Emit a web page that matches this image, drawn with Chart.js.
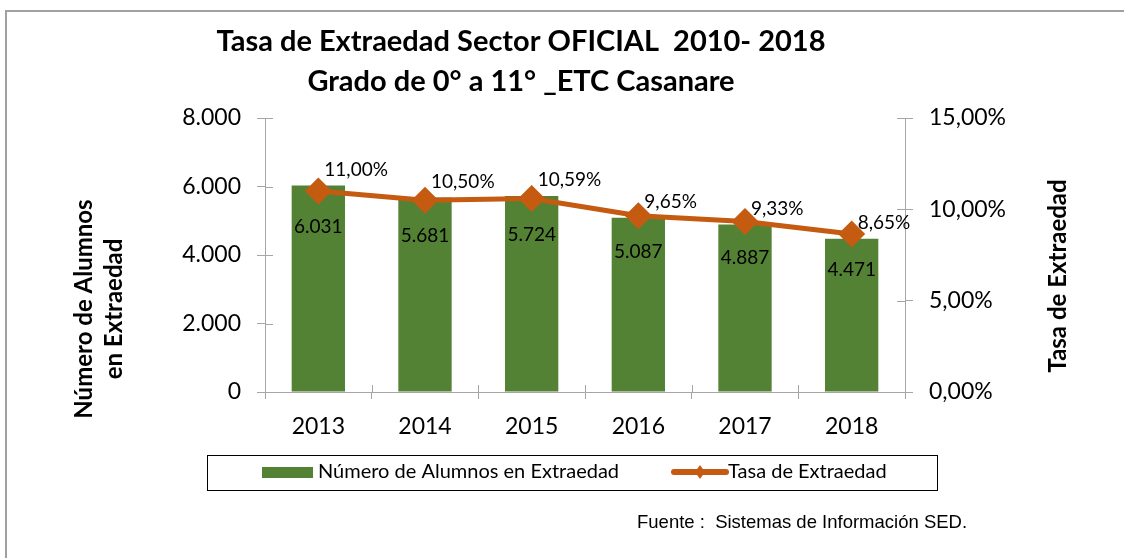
<!DOCTYPE html>
<html>
<head>
<meta charset="utf-8">
<script src="https://cdn.jsdelivr.net/npm/chart.js@4.4.1/dist/chart.umd.min.js"></script>
<style>
  html, body { margin: 0; padding: 0; background: #fff; }
  #wrap { width: 1124px; height: 558px; position: relative; }
</style>
</head>
<body>
<div id="wrap"><canvas id="chart" width="1124" height="558"></canvas></div>
<script>
// Chart data
const years = ['2013', '2014', '2015', '2016', '2017', '2018'];
const alumnos = [6031, 5681, 5724, 5087, 4887, 4471];
const tasa = [11.00, 10.50, 10.59, 9.65, 9.33, 8.65];
const leftTicks = [0, 2000, 4000, 6000, 8000];
const rightTicks = [0, 5, 10, 15];

const green = '#548235';
const orange = '#C55A11';
const axisGray = '#A6A6A6';
const font = 'Lato, "Open Sans", sans-serif';

function fmtMiles(v) {
  return v.toLocaleString('de-DE');
}
function fmtPct(v) {
  return v.toFixed(2).replace('.', ',') + '%';
}

// Draws border, title, axis titles, crossing ticks, data labels and the boxed legend
const extras = {
  id: 'extras',
  afterDatasetsDraw(chart) {
    const ctx = chart.ctx;
    const x = chart.scales.x, y = chart.scales.y, y1 = chart.scales.y1;
    ctx.save();

    // inner halves of the crossing tick marks
    ctx.strokeStyle = axisGray;
    ctx.lineWidth = 1;
    ctx.beginPath();
    leftTicks.forEach(v => {
      const py = Math.round(y.getPixelForValue(v)) + 0.5;
      ctx.moveTo(x.left, py); ctx.lineTo(x.left + 8, py);
    });
    rightTicks.forEach(v => {
      const py = Math.round(y1.getPixelForValue(v)) + 0.5;
      ctx.moveTo(x.right - 8, py); ctx.lineTo(x.right, py);
    });
    for (let i = 0; i <= years.length; i++) {
      const px = Math.round(x.left + (x.right - x.left) * i / years.length) + 0.5;
      ctx.moveTo(px, y.bottom - 7); ctx.lineTo(px, y.bottom);
    }
    ctx.stroke();

    // bar value labels
    ctx.fillStyle = '#000';
    ctx.font = '19px ' + font;
    ctx.textAlign = 'center';
    ctx.textBaseline = 'middle';
    chart.getDatasetMeta(0).data.forEach((bar, i) => {
      ctx.fillText(fmtMiles(alumnos[i]), bar.x, bar.y + 36);
    });

    // line value labels
    ctx.textAlign = 'left';
    chart.getDatasetMeta(1).data.forEach((pt, i) => {
      ctx.fillText(fmtPct(tasa[i]), pt.x + 6, pt.y - 16);
    });
    ctx.restore();
  },
  afterDraw(chart) {
    const ctx = chart.ctx;
    ctx.save();

    // outer frame (top and left edges visible)
    ctx.strokeStyle = '#A0A0A0';
    ctx.lineWidth = 2;
    ctx.beginPath();
    ctx.moveTo(6, 558); ctx.lineTo(6, 11); ctx.lineTo(1124, 11);
    ctx.stroke();

    // title
    ctx.fillStyle = '#000';
    ctx.textAlign = 'center';
    ctx.textBaseline = 'middle';
    ctx.font = 'bold 29px ' + font;
    ctx.fillText('Tasa de Extraedad Sector OFICIAL  2010- 2018', 521, 42);
    ctx.fillText('Grado de 0° a 11° _ETC Casanare', 521, 82);

    // axis titles
    ctx.font = 'bold 24px ' + font;
    ctx.save();
    ctx.translate(84, 309);
    ctx.rotate(-Math.PI / 2);
    ctx.fillText('Número de Alumnos', 0, 0);
    ctx.fillText('en Extraedad', 0, 30);
    ctx.restore();
    ctx.save();
    ctx.translate(1058, 276);
    ctx.rotate(-Math.PI / 2);
    ctx.fillText('Tasa de Extraedad', 0, 0);
    ctx.restore();

    // legend
    ctx.strokeStyle = '#000';
    ctx.lineWidth = 1;
    ctx.strokeRect(207.5, 455.5, 730, 35);
    ctx.fillStyle = green;
    ctx.fillRect(262, 467, 51, 11);
    ctx.strokeStyle = orange;
    ctx.lineWidth = 6;
    ctx.lineCap = 'round';
    ctx.beginPath();
    ctx.moveTo(674, 472); ctx.lineTo(726, 472);
    ctx.stroke();
    ctx.fillStyle = orange;
    ctx.beginPath();
    ctx.moveTo(700, 465); ctx.lineTo(705, 472); ctx.lineTo(700, 479); ctx.lineTo(695, 472);
    ctx.closePath();
    ctx.fill();
    ctx.fillStyle = '#000';
    ctx.font = '20px ' + font;
    ctx.textAlign = 'left';
    ctx.fillText('Número de Alumnos en Extraedad', 318, 472);
    ctx.fillText('Tasa de Extraedad', 728, 472);

    // source
    ctx.font = '18.5px "Liberation Sans", Arial, sans-serif';
    ctx.fillText('Fuente :  Sistemas de Información SED.', 637, 523);
    ctx.restore();
  }
};

new Chart(document.getElementById('chart'), {
  data: {
    labels: years,
    datasets: [
      {
        type: 'line',
        label: 'Tasa de Extraedad',
        data: tasa,
        yAxisID: 'y1',
        borderColor: orange,
        backgroundColor: orange,
        borderWidth: 5,
        pointStyle: 'rectRot',
        pointRadius: 10,
        pointHoverRadius: 10,
        tension: 0,
        order: 0
      },
      {
        type: 'bar',
        label: 'Número de Alumnos en Extraedad',
        data: alumnos,
        yAxisID: 'y',
        backgroundColor: green,
        categoryPercentage: 0.5,
        barPercentage: 1,
        order: 1
      }
    ]
  },
  options: {
    responsive: false,
    animation: false,
    layout: { padding: { top: 118, left: 0, right: 0, bottom: 0 } },
    plugins: {
      legend: { display: false },
      title: { display: false },
      tooltip: { enabled: false }
    },
    scales: {
      x: {
        offset: true,
        grid: { display: true, drawOnChartArea: false, color: axisGray, tickLength: 7, offset: true },
        border: { color: axisGray },
        ticks: { color: '#000', font: { family: font, size: 23 }, padding: 14 },
        afterFit(s) { s.height = 166; }
      },
      y: {
        position: 'left',
        min: 0, max: 8000,
        afterBuildTicks(s) { s.ticks = leftTicks.map(v => ({ value: v })); },
        grid: { drawOnChartArea: false, color: axisGray, tickLength: 8 },
        border: { color: axisGray },
        ticks: { color: '#000', font: { family: font, size: 23 }, padding: 16, callback: v => fmtMiles(v) },
        afterFit(s) { s.width = 265; }
      },
      y1: {
        position: 'right',
        min: 0, max: 15,
        afterBuildTicks(s) { s.ticks = rightTicks.map(v => ({ value: v })); },
        grid: { drawOnChartArea: false, color: axisGray, tickLength: 8 },
        border: { color: axisGray },
        ticks: { color: '#000', font: { family: font, size: 23 }, padding: 16, callback: v => fmtPct(v) },
        afterFit(s) { s.width = 219; }
      }
    }
  },
  plugins: [extras]
});
</script>
</body>
</html>
